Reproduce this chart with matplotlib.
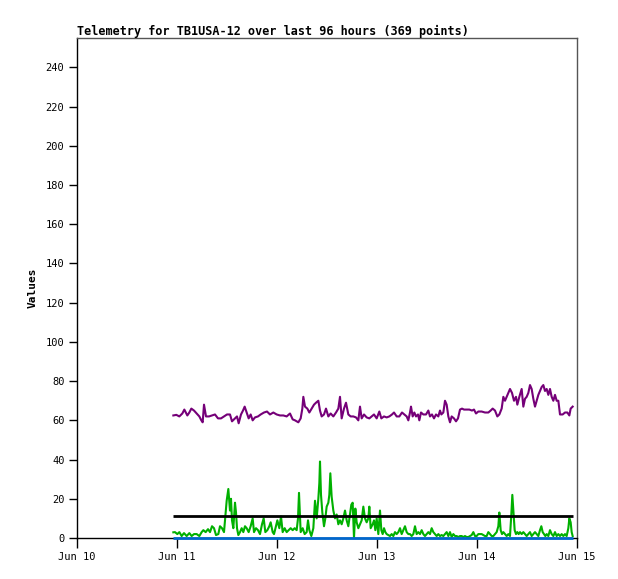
import matplotlib
matplotlib.use("Agg")
import matplotlib.pyplot as plt
import matplotlib.dates as mdates
import numpy as np
from datetime import datetime, timedelta

title = "Telemetry for TB1USA-12 over last 96 hours (369 points)"
ylabel = "Values"
base_date = datetime(2024, 6, 10)
x_tick_days = [0, 1, 2, 3, 4, 5]
y_ticks = [0, 20, 40, 60, 80, 100, 120, 140, 160, 180, 200, 220, 240]

# hours since Jun 10 00:00
purple_hours = [23.12, 23.84, 24.56, 25.28, 25.76, 26.48, 26.96, 27.44, 28.08, 28.72, 29.36, 29.84, 30.16, 30.48,
                30.96, 31.68, 32.4, 33.12, 33.84, 34.56, 35.28, 36.0, 36.72, 37.2, 37.92, 38.4, 38.8, 39.36, 39.84,
                40.24, 40.72, 41.2, 41.68, 42.16, 42.72, 43.44, 44.08, 44.88, 45.6, 46.32, 47.12,
                47.92, 48.72, 49.52, 50.32, 51.12, 51.76, 52.32, 53.12, 53.68, 54.08, 54.32, 54.72, 55.28, 55.76,
                56.32, 56.88, 57.36, 57.92, 58.32, 58.72, 59.28, 59.76, 60.32, 60.88, 61.52, 62.16, 62.72, 63.12,
                63.52, 64.08, 64.56, 65.12, 65.68, 66.32, 66.96, 67.52, 67.92, 68.32, 68.88, 69.52, 70.16, 70.72, 71.28,
                71.92, 72.56, 73.04, 73.68, 74.32, 74.96, 75.6, 76.08, 76.72, 77.36, 78.0, 78.56, 79.12, 79.52, 79.92,
                80.16, 80.56, 80.96, 81.36, 81.84, 82.16, 82.56, 83.12, 83.76, 84.32, 84.72, 85.2, 85.68, 86.16,
                86.72, 87.12, 87.44, 87.92, 88.32, 88.72, 89.12, 89.52, 89.92, 90.48, 90.96, 91.44, 91.92, 92.4,
                92.88, 93.52, 94.16, 94.8, 95.28,
                95.76, 96.32, 97.12, 97.92, 98.72, 99.28, 99.76, 100.32, 100.88, 101.36, 101.92, 102.32, 102.72,
                103.12, 103.52, 103.92, 104.4, 104.88, 105.36, 105.68, 106.16, 106.72, 107.12, 107.52, 107.92,
                108.32, 108.72, 109.12, 109.52, 109.92, 110.32, 110.72, 111.12, 111.52, 111.92, 112.32, 112.72,
                113.12, 113.52, 113.92, 114.32, 114.72, 115.12, 115.52, 115.92, 116.56, 117.12, 117.68, 118.16,
                118.48, 118.96]
purple_values = [62.5, 62.8, 62.0, 63.5, 65.5, 62.5, 64, 66, 65, 63.5, 62, 60, 59, 68,
                 62, 62, 62.5, 63, 61, 61, 62, 63, 63, 59.5, 61, 62, 58.5, 63, 65,
                 67, 64, 61, 63, 60, 61.5, 62, 63, 64, 64.5, 63, 64,
                 63, 62.5, 62.5, 62, 63.5, 60.5, 60, 59, 61, 66, 72, 67, 66, 64,
                 66, 68, 69, 70, 65, 62, 63, 66, 62, 63.5, 62, 64, 66, 72,
                 61, 66, 69, 63, 62, 62, 61.5, 60, 67, 61, 63, 61.5, 61, 62, 63,
                 61, 64.5, 61, 62, 61.5, 62, 63, 64, 62, 62, 64, 63, 62, 60, 64,
                 67, 62, 64, 62, 63, 60, 64, 63, 63, 65, 62, 63, 61, 63,
                 62, 65, 63, 64, 70, 68, 62, 59, 62, 61, 59.5, 61, 65.5, 66,
                 65.5, 65.5, 65.5, 65, 65.5,
                 63.5, 64.5, 64.5, 64, 64, 65, 66, 65, 62, 63, 66, 72, 70,
                 72, 74, 76, 74, 70, 72, 68, 72, 76, 67, 71, 72,
                 74, 78, 76, 71, 67, 70, 73, 75, 77, 78, 75, 76,
                 73, 76, 72, 70, 73, 70, 70, 63, 63, 64, 64, 62.5,
                 66, 67]

green_hours = [23.12, 23.52, 24.08, 24.56, 25.12, 25.68, 26.32, 26.96, 27.52, 28.08, 28.72, 29.36, 29.92, 30.32,
               30.88, 31.44, 31.92, 32.4, 32.88, 33.36, 33.92, 34.32, 34.8, 35.28, 35.6, 35.92, 36.32, 36.72,
               36.96, 37.2, 37.52, 37.92, 38.16, 38.4, 38.72, 39.12, 39.52, 39.92, 40.32, 40.72, 41.2, 41.68,
               42.16, 42.48, 42.96, 43.44, 43.92, 44.4, 44.8, 45.2, 45.68, 46.16, 46.48, 46.96, 47.28,
               47.52, 48.08, 48.56, 48.96, 49.36, 49.84, 50.32, 50.8, 51.28, 51.76, 52.24, 52.72, 53.04, 53.28,
               53.68, 54.16, 54.64, 55.12, 55.44, 55.76, 56.24, 56.72, 57.12, 57.52, 57.92, 58.16, 58.32, 58.56,
               58.88, 59.28, 59.6, 59.92, 60.32, 60.56, 60.8, 61.12, 61.52, 61.92, 62.32, 62.72, 63.12, 63.52,
               63.92, 64.32, 64.72, 65.12, 65.52, 65.84, 66.16, 66.48, 66.8, 67.12, 67.52, 67.92, 68.32, 68.72,
               69.12, 69.52, 69.92, 70.16, 70.48, 70.96, 71.28,
               71.6, 71.92, 72.32, 72.72, 73.04, 73.36, 73.68, 74.0, 74.32, 74.72, 75.12, 75.52, 75.92, 76.32,
               76.72, 77.12, 77.52, 77.92, 78.32, 78.72, 79.12, 79.52, 79.92, 80.32, 80.72, 81.12, 81.52, 81.92,
               82.32, 82.72, 83.12, 83.52, 83.92, 84.32, 84.72, 85.12, 85.52, 85.92, 86.32, 86.72, 87.12, 87.52,
               87.92, 88.32, 88.72, 89.12, 89.52, 89.92, 90.32, 90.72, 91.12, 91.52, 91.92, 92.32, 92.72, 93.12,
               93.52, 93.92, 94.32, 94.72, 95.12,
               95.52, 95.92, 96.32, 96.72, 97.12, 97.52, 97.92, 98.32, 98.72, 99.12, 99.52, 99.92, 100.32, 100.72,
               101.12, 101.36, 101.68, 102.0, 102.32, 102.72, 103.12, 103.52, 103.92, 104.24, 104.48, 104.72,
               105.04, 105.36, 105.68, 106.0, 106.32, 106.72, 107.12, 107.52, 107.92, 108.32, 108.72, 109.12,
               109.52, 109.92, 110.32, 110.72, 111.12, 111.44, 111.76, 112.08, 112.4, 112.72, 113.12, 113.52,
               113.92, 114.32, 114.72, 115.12, 115.52, 115.92, 116.32, 116.72, 117.12, 117.52, 117.92, 118.16,
               118.48, 118.72, 118.96]
green_values = [2.9, 3, 2, 3, 1, 2.5, 1, 2.5, 1, 2, 2, 1, 3, 4,
                3, 4.5, 3, 6, 5, 1.5, 2, 6, 5, 3, 11, 19, 25, 14,
                20, 9, 5, 18, 13, 5, 1.5, 3, 5, 3, 6, 5, 3, 6,
                10, 3, 5, 4, 2, 7, 10, 3, 4, 6, 8, 3, 2,
                4, 9, 5, 11, 3, 5, 3, 4, 5, 4, 5, 4, 10, 23,
                3, 5, 2, 3, 9, 4, 1, 5, 19, 10, 20, 28, 39, 22,
                13, 6, 10, 16, 18, 22, 33, 21, 14, 10, 12, 7, 9, 7,
                10, 14, 9, 6, 12, 17, 18, 0, 15, 8, 5, 7, 9, 16,
                10, 8, 10, 16, 5, 7, 9,
                4, 10, 2, 14, 4, 2, 5, 3, 2, 1.5, 1, 2, 1, 3,
                2, 3, 5, 2, 4, 6, 3, 2, 2, 1, 2, 6, 2, 3,
                2, 4, 2, 1, 2, 3, 2, 5, 3, 2, 1, 2, 1, 1.5,
                1, 2, 3, 1, 3, 0.5, 2, 1, 1, 0.5, 1, 1, 0.5, 1,
                0.5, 0.5, 1, 1.5, 3,
                1, 1, 2, 2, 2, 1.5, 1, 1, 3, 2, 1, 1, 2, 3,
                6, 13, 4, 2, 3, 2, 1, 2, 1, 12, 22, 14,
                4, 2, 3, 2, 3, 2, 3, 2, 1, 2, 3, 1,
                2, 3, 2, 1, 4, 6, 3, 2, 1, 2, 1, 4,
                2, 1, 3, 1, 2, 1, 2, 1, 2, 1, 5, 10,
                8, 3, 1]

black_hours = [23.12, 118.96]
black_values = [11, 11]
blue_hours = [23.12, 118.96]
blue_values = [0, 0]

def to_dates(hours):
    return [base_date + timedelta(hours=h) for h in hours]

W, H = 618, 579
fig = plt.figure(figsize=(W / 100, H / 100), dpi=100)
ax = fig.add_axes([77 / W, 1 - 538 / H, 500 / W, 500 / H])

ax.plot(to_dates(green_hours), green_values, color="#00b000", lw=1.5, zorder=3)
ax.plot(to_dates(black_hours), black_values, color="black", lw=2.0, solid_capstyle="butt", zorder=4)
ax.plot(to_dates(purple_hours), purple_values, color="#750078", lw=1.5, zorder=3)
ax.plot(to_dates(blue_hours), blue_values, color="#0066cc", lw=2.0, solid_capstyle="butt", clip_on=False, zorder=6)

ax.set_xlim(base_date, base_date + timedelta(days=5))
ax.set_ylim(0, 255)
ax.set_xticks([base_date + timedelta(days=d) for d in x_tick_days])
ax.xaxis.set_major_formatter(mdates.DateFormatter("%b %d"))
ax.set_yticks(y_ticks)

mono = "DejaVu Sans Mono"
for lab in ax.get_xticklabels() + ax.get_yticklabels():
    lab.set_family(mono)
    lab.set_fontsize(7.5)
ax.tick_params(axis="x", length=7, width=1, pad=3, direction="out")
ax.tick_params(axis="y", length=6, width=1, pad=3, direction="out")

for s in ["left", "bottom"]:
    ax.spines[s].set_color("black")
    ax.spines[s].set_linewidth(1)
for s in ["top", "right"]:
    ax.spines[s].set_color("#555555")
    ax.spines[s].set_linewidth(1)

ax.set_ylabel(ylabel, family=mono, fontweight="bold", fontsize=8, labelpad=6)
fig.text(77 / W, 1 - 31 / H, title, family=mono, fontweight="bold", fontsize=8.45, ha="left", va="center")

fig.savefig("out.png", dpi=100)
